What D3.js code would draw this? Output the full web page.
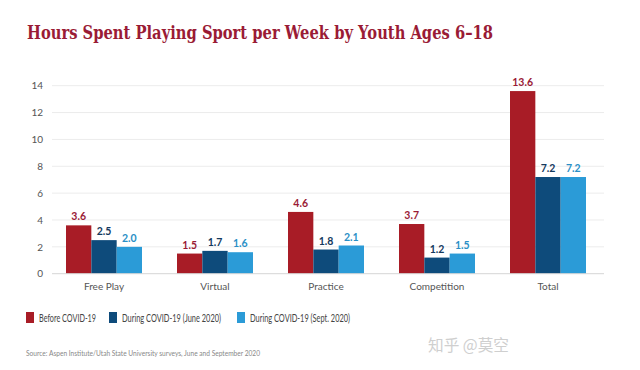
<!doctype html>
<html lang="en">
<head>
<meta charset="UTF-8">
<title>Hours Spent Playing Sport</title>
<script src="https://cdnjs.cloudflare.com/ajax/libs/d3/7.8.5/d3.min.js"></script>
<style>
    html, body { margin: 0; padding: 0; background: #fff; overflow: hidden; }
    text { font-family: "Lato", "Open Sans", sans-serif; }
</style>
</head>
<body>
<svg id="chart" width="640" height="370"></svg>
<script>
    const categories = ["Free Play", "Virtual", "Practice", "Competition", "Total"];
    const seriesNames = ["Before COVID-19", "During COVID-19 (June 2020)", "During COVID-19 (Sept. 2020)"];
    const beforeCovid = [3.6, 1.5, 4.6, 3.7, 13.6];
    const june2020 = [2.5, 1.7, 1.8, 1.2, 7.2];
    const sept2020 = [2.0, 1.6, 2.1, 1.5, 7.2];
    const yTicks = [0, 2, 4, 6, 8, 10, 12, 14];

    const series = [beforeCovid, june2020, sept2020];
    const barColors = ["#a81c26", "#0e4b7b", "#2b9bd7"];
    const labelColors = ["#9a1b35", "#143a5e", "#2a8fc6"];

    const svg = d3.select("#chart");

    svg.append("text")
        .attr("x", 27).attr("y", 39)
        .attr("textLength", 466)
        .attr("lengthAdjust", "spacingAndGlyphs")
        .style("font-family", "'DejaVu Serif', serif")
        .style("font-weight", "bold")
        .style("font-size", "19px")
        .attr("fill", "#9a1b35")
        .text("Hours Spent Playing Sport per Week by Youth Ages 6\u201318");

    const x = d3.scaleBand().domain(categories).range([48.5, 603.5]);
    const groupW = 76;
    const xs = d3.scaleBand().domain(d3.range(series.length)).range([0, groupW]);
    const y = d3.scaleLinear().domain([0, 14]).range([273.7, 85.7]);

    // gridlines
    svg.append("g")
        .selectAll("line")
        .data(yTicks.slice(1))
        .join("line")
        .attr("x1", 52).attr("x2", 604)
        .attr("y1", d => y(d)).attr("y2", d => y(d))
        .attr("stroke", "#ececec").attr("stroke-width", 1);

    // y axis labels
    const yAxis = svg.append("g")
        .attr("transform", "translate(43,0)")
        .call(d3.axisLeft(y).tickValues(yTicks).tickSize(0).tickPadding(0));
    yAxis.select(".domain").remove();
    yAxis.selectAll("text")
        .style("font-family", "Lato, sans-serif")
        .style("font-size", "10px")
        .attr("fill", "#555");

    // bars
    series.forEach((vals, s) => {
        const g = svg.append("g");
        g.selectAll("rect")
            .data(vals)
            .join("rect")
            .attr("x", (d, i) => x(categories[i]) + x.bandwidth() / 2 - groupW / 2 + xs(s))
            .attr("width", xs.bandwidth())
            .attr("y", d => y(d))
            .attr("height", d => y(0) - y(d))
            .attr("fill", barColors[s]);
        g.selectAll("text")
            .data(vals)
            .join("text")
            .attr("x", (d, i) => x(categories[i]) + x.bandwidth() / 2 - groupW / 2 + xs(s) + xs.bandwidth() / 2)
            .attr("y", d => y(d) - 5)
            .attr("text-anchor", "middle")
            .style("font-size", "10.5px")
            .style("font-weight", "bold")
            .attr("fill", labelColors[s])
            .text(d => d.toFixed(1));
    });

    // baseline
    svg.append("line")
        .attr("x1", 52).attr("x2", 604)
        .attr("y1", y(0)).attr("y2", y(0))
        .attr("stroke", "#d6d6d6").attr("stroke-width", 1);

    // x axis labels
    const xAxis = svg.append("g")
        .attr("transform", "translate(0," + y(0) + ")")
        .call(d3.axisBottom(x).tickSize(0).tickPadding(9));
    xAxis.select(".domain").remove();
    xAxis.selectAll("text")
        .style("font-family", "Lato, sans-serif")
        .style("font-size", "10px")
        .attr("fill", "#555");

    // legend
    const legendX = [26, 109, 237];
    const legendW = [57, 99, 100];
    const legend = svg.append("g");
    seriesNames.forEach((name, i) => {
        legend.append("rect")
            .attr("x", legendX[i]).attr("y", 312)
            .attr("width", 8).attr("height", 11)
            .attr("fill", barColors[i]);
        legend.append("text")
            .attr("x", legendX[i] + 13).attr("y", 321.5)
            .attr("textLength", legendW[i])
            .attr("lengthAdjust", "spacingAndGlyphs")
            .style("font-size", "10.5px")
            .attr("fill", "#444")
            .text(name);
    });

    svg.append("text")
        .attr("x", 26).attr("y", 356)
        .attr("textLength", 234)
        .attr("lengthAdjust", "spacingAndGlyphs")
        .style("font-size", "8px")
        .attr("fill", "#888")
        .text("Source: Aspen Institute/Utah State University surveys, June and September 2020");

    svg.append("text")
        .attr("x", 428).attr("y", 351)
        .attr("textLength", 81)
        .attr("lengthAdjust", "spacingAndGlyphs")
        .style("font-family", "'Noto Sans CJK SC', sans-serif")
        .style("font-size", "16px")
        .attr("fill", "#cfcfcf")
        .text("知乎 @莫空");
</script>
</body>
</html>
